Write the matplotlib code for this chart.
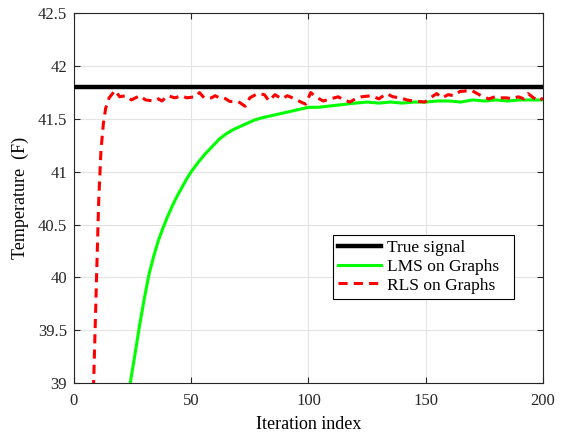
import matplotlib
matplotlib.use("Agg")
import matplotlib.pyplot as plt

plt.rcParams['font.family'] = ['Liberation Serif', 'DejaVu Serif']
plt.rcParams['font.size'] = 12

# true signal level
true_x = [0, 200]
true_y = [41.8, 41.8]

# LMS on Graphs
lms_x = [22, 24, 26, 28, 30, 32, 34, 36, 38, 40, 42, 44, 46, 48, 50, 53, 56, 59,
         62, 65, 68, 71, 74, 77, 80, 84, 88, 92, 96, 100, 104, 108, 112, 116, 120,
         125, 130, 135, 140, 145, 150, 155, 160, 165, 170, 175, 180, 185, 190, 195, 200]
lms_y = [38.72, 39.0, 39.27, 39.55, 39.8, 40.03, 40.2, 40.35, 40.47, 40.58, 40.68,
         40.77, 40.85, 40.93, 41.0, 41.09, 41.17, 41.24, 41.31, 41.36, 41.40, 41.43,
         41.46, 41.49, 41.51, 41.53, 41.55, 41.57, 41.59, 41.61, 41.61, 41.62, 41.63,
         41.64, 41.65, 41.66, 41.65, 41.66, 41.65, 41.66, 41.66, 41.67, 41.67, 41.66,
         41.68, 41.67, 41.68, 41.67, 41.68, 41.68, 41.68]

# RLS on Graphs
rls_x = [7.5, 8.5, 9.5, 10.5, 11.5, 12.5, 13.5, 15, 17.5, 19.5, 22, 24.5, 28, 30.5,
         34, 36, 37.5, 40, 43, 46, 48, 52, 53.5, 55.5, 58.7, 60.2, 62, 64, 66.5, 70,
         73, 75, 78.3, 81.2, 83.2, 85.7, 88.6, 91, 94.2, 96.8, 98.8, 101, 103, 106.3,
         109.5, 112.7, 115, 117.7, 120, 122.7, 126.9, 130, 133.3, 136, 139, 142,
         144.7, 149.7, 152, 154.7, 157, 159.6, 162, 164.6, 169.6, 172, 174.5, 177,
         179.5, 182, 184.5, 187, 189.5, 192, 193.7, 196, 198.7, 200]
rls_y = [38.4, 39.1, 39.9, 40.7, 41.2, 41.45, 41.6, 41.7, 41.77, 41.71, 41.72, 41.68,
         41.72, 41.68, 41.67, 41.69, 41.67, 41.72, 41.70, 41.72, 41.70, 41.71, 41.75,
         41.70, 41.70, 41.72, 41.70, 41.70, 41.665, 41.665, 41.62, 41.70, 41.74,
         41.73, 41.67, 41.73, 41.69, 41.72, 41.69, 41.66, 41.64, 41.75, 41.71, 41.67,
         41.69, 41.71, 41.68, 41.66, 41.69, 41.71, 41.72, 41.69, 41.74, 41.71, 41.70,
         41.68, 41.67, 41.66, 41.70, 41.74, 41.70, 41.73, 41.72, 41.76, 41.77, 41.74,
         41.71, 41.69, 41.71, 41.70, 41.70, 41.69, 41.71, 41.69, 41.74, 41.70, 41.67,
         41.70]

fig = plt.figure(figsize=(5.67, 4.34), dpi=100)
ax = fig.add_axes([0.1305, 0.1175, 0.827, 0.8518])

ax.plot(true_x, true_y, color='black', lw=3.2, label='True signal', zorder=3)
ax.plot(lms_x, lms_y, color='#00ff00', lw=2.2, label='LMS on Graphs', zorder=4)
ax.plot(rls_x, rls_y, color='red', lw=2.2, dashes=(3, 2), label='RLS on Graphs', zorder=5)

ax.set_xlim(0, 200)
ax.set_ylim(39, 42.5)
ax.set_xticks([0, 50, 100, 150, 200])
ax.set_yticks([39, 39.5, 40, 40.5, 41, 41.5, 42, 42.5])
ax.set_yticklabels(['39', '39.5', '40', '40.5', '41', '41.5', '42', '42.5'])
ax.grid(True, color='#e3e3e3', lw=0.8)
ax.set_axisbelow(True)
ax.tick_params(direction='in', top=True, right=True, length=4, width=0.8,
               color='#262626', labelsize=12, labelcolor='#262626')
ax.tick_params(axis='x', pad=7.5)
ax.tick_params(axis='y', pad=5)
for s in ax.spines.values():
    s.set_color('#262626')
    s.set_linewidth(0.8)

ax.set_xlabel('Iteration index', fontsize=13, labelpad=5)
ax.set_ylabel('Temperature  (F)', fontsize=13, labelpad=6)

leg = ax.legend(loc='lower left', bbox_to_anchor=(0.552, 0.228, 0.386, 0.19),
                mode='expand', fontsize=12.5, handlelength=2.5, handletextpad=0.3,
                borderpad=0.3, labelspacing=0.15, fancybox=False, framealpha=1,
                edgecolor='black', borderaxespad=0)
leg.get_frame().set_linewidth(0.8)

fig.savefig('out.png', dpi=100)
